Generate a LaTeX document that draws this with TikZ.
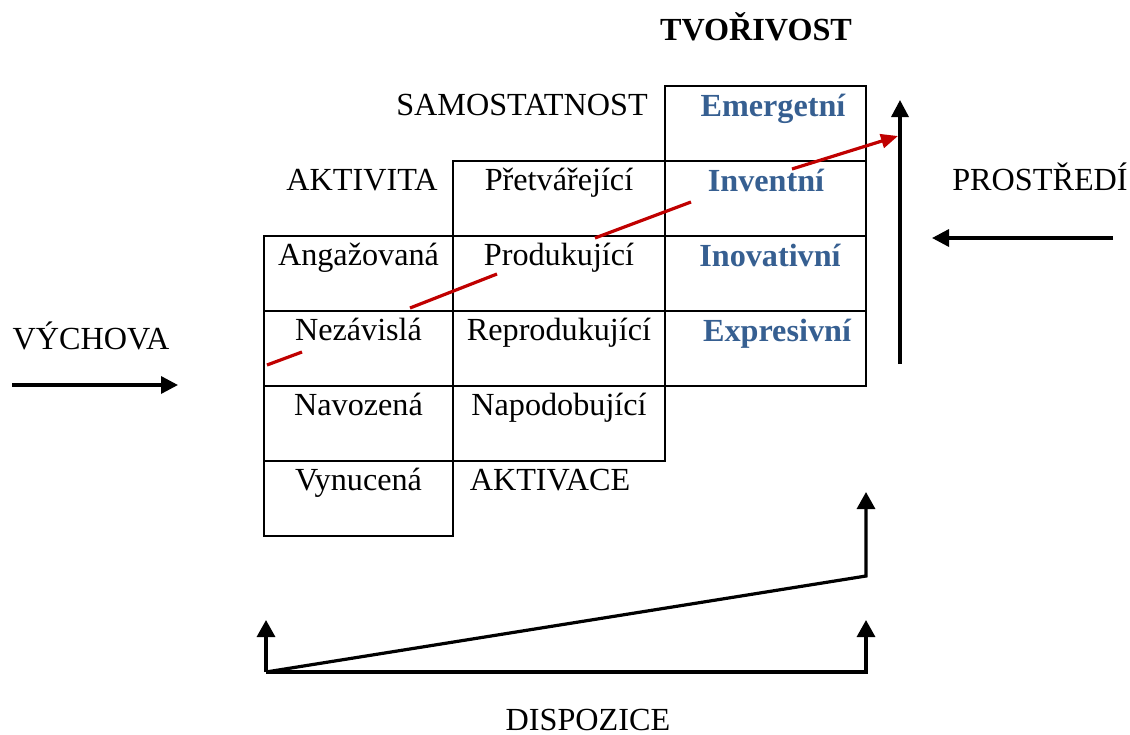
\documentclass[tikz,border=0pt]{standalone}
\usepackage{fontspec}
\setmainfont{Liberation Serif}
\usetikzlibrary{arrows.meta}
\definecolor{cellblue}{HTML}{365F91}
\definecolor{darkred}{HTML}{C00000}
\tikzset{
  txt/.style={anchor=base, inner sep=0pt, font=\fontsize{16.1}{19}\selectfont},
  btxt/.style={txt, font=\fontsize{16.1}{19}\selectfont\bfseries, text=cellblue},
  cellbox/.style={draw=black, line width=1pt},
  bigarrow/.style={line width=1.7pt, -{Triangle[length=8.5pt,width=8.5pt]}},
  smallarrow/.style={line width=1.6pt, -{Triangle[length=8.5pt,width=9pt]}},
  redline/.style={draw=darkred, line width=1.6pt},
  redarrow/.style={redline, -{Triangle[length=8.5pt,width=7pt]}}
}
\begin{document}
\begin{tikzpicture}[x=0.5pt,y=-0.5pt]
\useasboundingbox (0,0) rectangle (1130,734);
% grid cells
\foreach \t/\b in {236/311,311/386,386/461,461/536} \draw[cellbox] (264,\t) rectangle (453,\b);
\foreach \t/\b in {161/236,236/311,311/386,386/461} \draw[cellbox] (453,\t) rectangle (665,\b);
\foreach \t/\b in {86/161,161/236,236/311,311/386} \draw[cellbox] (665,\t) rectangle (866,\b);
% column 1
\node[txt] (ang) at (358.5,265) {Angažovaná};
\node[txt] (nez) at (358.5,340) {Nezávislá};
\node[txt] (nav) at (358.5,415) {Navozená};
\node[txt] (vyn) at (358.5,490) {Vynucená};
% column 2
\node[txt] (pre) at (559,190) {Přetvářející};
\node[txt] (pro) at (559,265) {Produkující};
\node[txt] (rep) at (559,340) {Reprodukující};
\node[txt] (nap) at (559,415) {Napodobující};
% column 3
\node[btxt] (eme) at (773,116) {Emergetní};
\node[btxt] (inv) at (766,191) {Inventní};
\node[btxt] (ino) at (770,266) {Inovativní};
\node[btxt] (exp) at (777,341) {Expresivní};
% headings
\node[txt, font=\fontsize{16.1}{19}\selectfont\bfseries] (tvo) at (756,40) {TVOŘIVOST};
\node[txt] (sam) at (522,115) {SAMOSTATNOST};
\node[txt] (akt) at (362,190) {AKTIVITA};
\node[txt] (akv) at (550,490) {AKTIVACE};
\node[txt] (vyc) at (91,349) {VÝCHOVA};
\node[txt] (prs) at (1040,190) {PROSTŘEDÍ};
\node[txt] (dis) at (588,730) {DISPOZICE};
% red trend line
\coordinate (r1a) at (267,365); \coordinate (r1b) at (302,352);
\coordinate (r2a) at (410,308); \coordinate (r2b) at (497,274);
\coordinate (r3a) at (595,238); \coordinate (r3b) at (691,202);
\coordinate (r4a) at (792,169); \coordinate (r4b) at (898,136);
\draw[redline] (r1a) -- (r1b);
\draw[redline] (r2a) -- (r2b);
\draw[redline] (r3a) -- (r3b);
\draw[redarrow] (r4a) -- (r4b);
% right vertical arrow
\coordinate (va) at (900,364); \coordinate (vb) at (900,100);
\draw[bigarrow] (va) -- (vb);
% VYCHOVA arrow
\coordinate (ha) at (12,385); \coordinate (hb) at (178,385);
\draw[bigarrow] (ha) -- (hb);
% PROSTREDI arrow
\coordinate (pa) at (1113,238); \coordinate (pb) at (932,238);
\draw[bigarrow] (pa) -- (pb);
% bottom arrows
\coordinate (bl) at (266,672); \coordinate (br) at (866,672);
\coordinate (bd) at (866,576);
\coordinate (tl) at (266,620); \coordinate (tr) at (866,620);
\coordinate (tt) at (866,492);
\draw[smallarrow, line join=miter] (tl |- bl) -- (br) -- (tr);
\draw[smallarrow] (bl) -- (tl);
\draw[smallarrow, line join=miter] (bl) -- (bd) -- (tt);
\end{tikzpicture}
\end{document}
